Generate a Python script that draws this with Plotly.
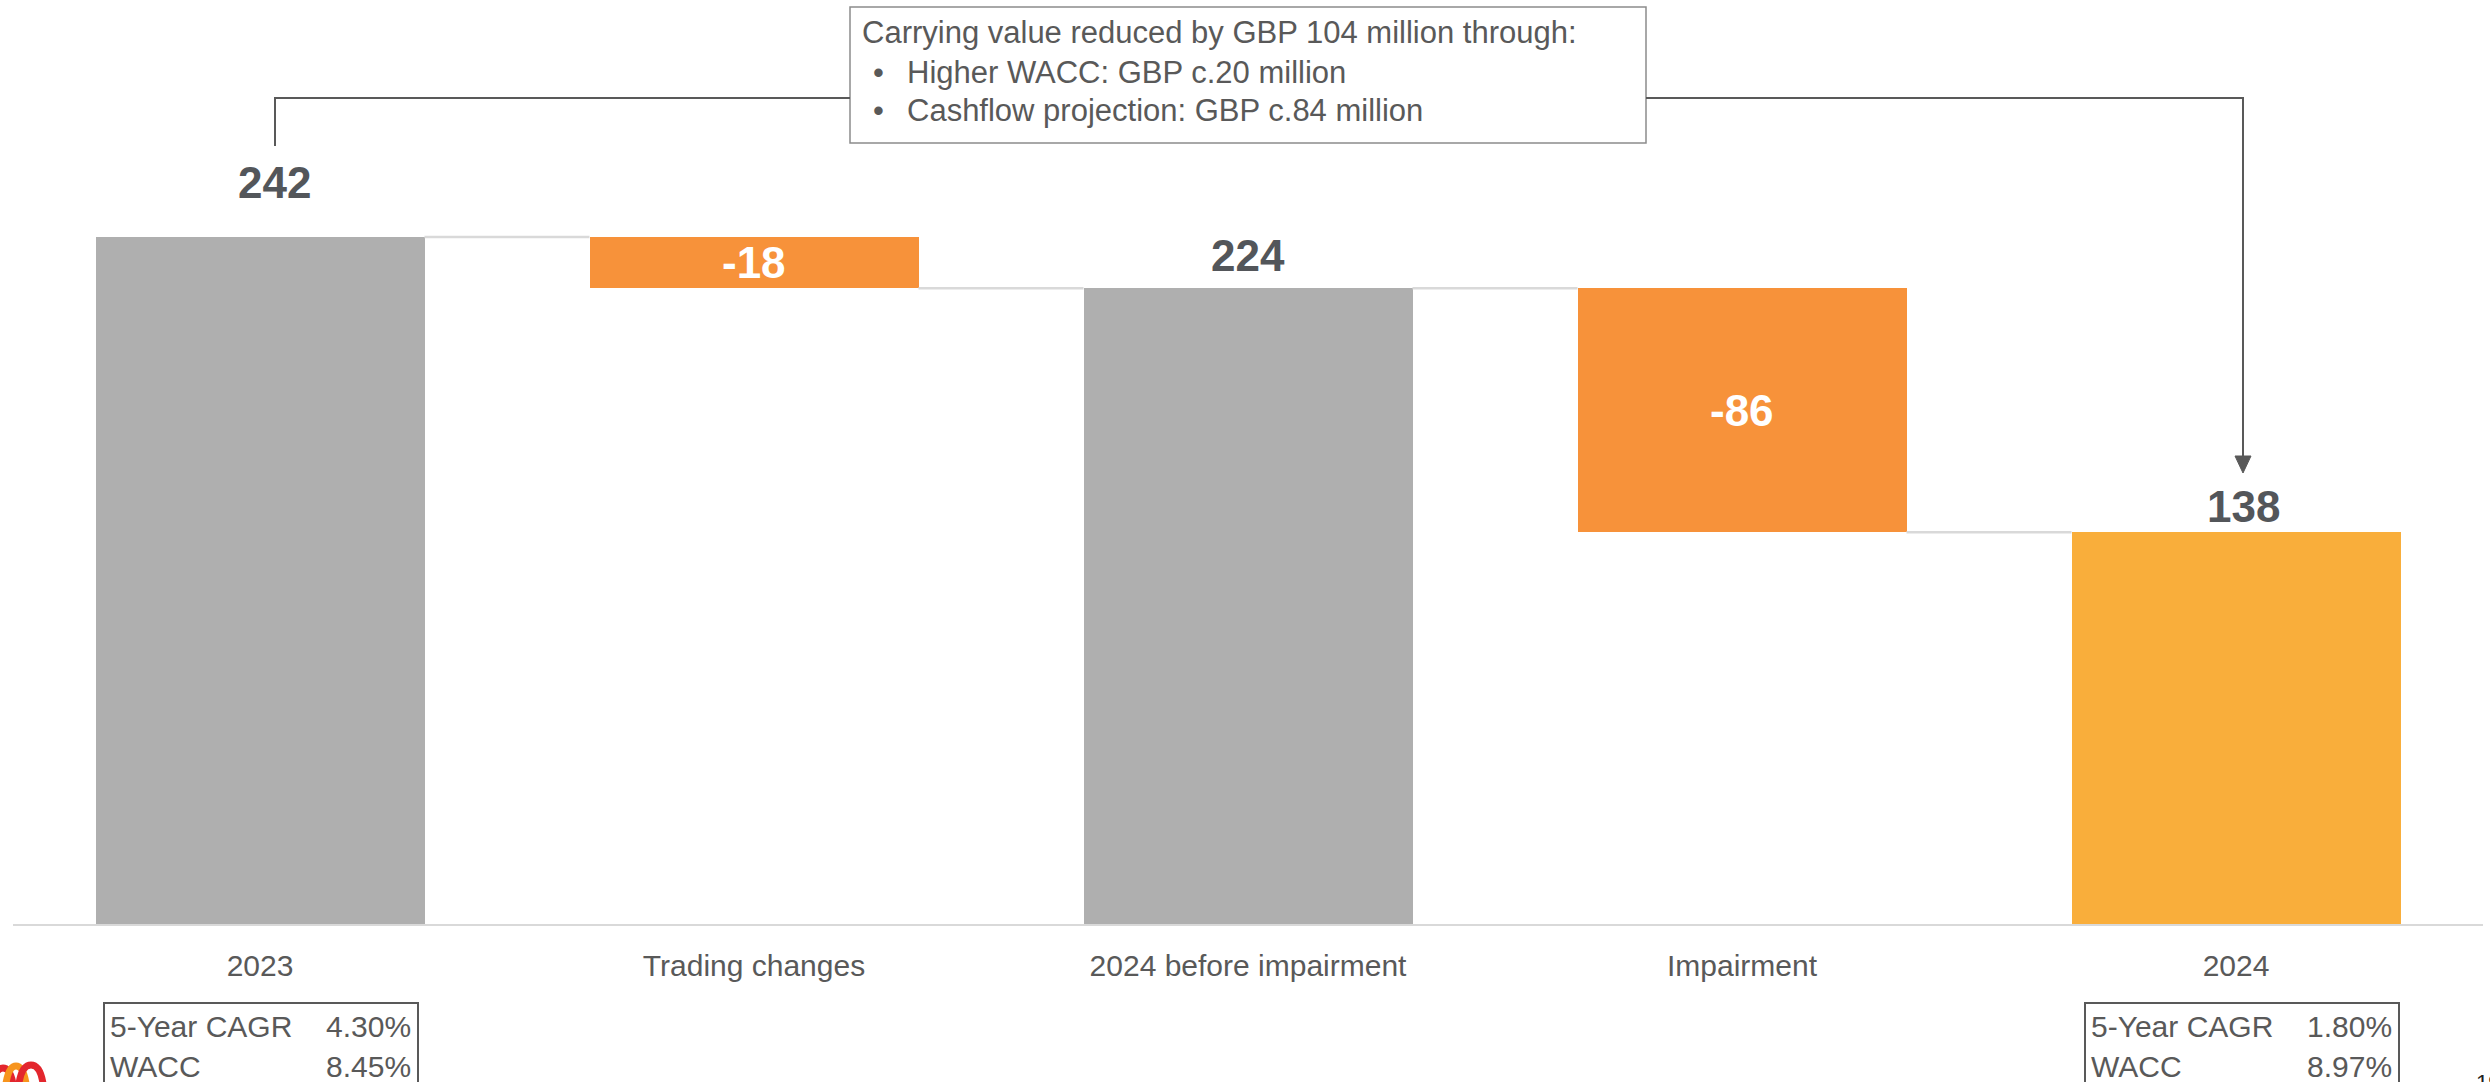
import plotly.graph_objects as go

# ---- data -------------------------------------------------------------
categories = ["2023", "Trading changes", "2024 before impairment", "Impairment", "2024"]
measures = ["absolute", "relative", "total", "relative", "total"]
values = [242, -18, 224, -86, 138]

metric_names = ["5-Year CAGR", "WACC"]
metrics_2023 = ["4.30%", "8.45%"]
metrics_2024 = ["1.80%", "8.97%"]

note_title = "Carrying value reduced by GBP 104 million through:"
note_items = ["Higher WACC: GBP c.20 million", "Cashflow projection: GBP c.84 million"]
page_number = "19"

# ---- styling ------------------------------------------------------------
GREY = "#AFAFAF"
ORANGE = "#F7923A"
GOLD = "#F9AE3B"
LABEL_DARK = "#53565A"
TEXT_GREY = "#595959"
CONNECTOR = "#D9D9D9"
FONT = "Liberation Sans, Arial, sans-serif"

W_PX, H_PX = 2490, 1082
M_L, M_R, M_T, M_B = 13, 7, 0, 158
PLOT_W = W_PX - M_L - M_R
PLOT_H = H_PX - M_T - M_B
Y_MAX = 325.5
BAR_W = 0.666
NOTE_FONT = 31


def px_x(p):
    return (p - M_L) / PLOT_W


def px_y(p):
    return (M_T + PLOT_H - p) / PLOT_H


# ---- waterfall geometry from the values ---------------------------------
bases, heights, levels = [], [], []
level = 0
for m, v in zip(measures, values):
    if m in ("absolute", "total"):
        bases.append(0)
        heights.append(v)
        level = v
    else:
        bases.append(level + v if v < 0 else level)
        heights.append(abs(v))
        level += v
    levels.append(level)

bar_colors = []
for i, m in enumerate(measures):
    if m == "relative":
        bar_colors.append(ORANGE)
    elif i == len(measures) - 1:
        bar_colors.append(GOLD)
    else:
        bar_colors.append(GREY)

xs = list(range(len(categories)))

fig = go.Figure()
fig.add_trace(go.Bar(
    x=xs, y=heights, base=bases, width=BAR_W,
    marker=dict(color=bar_colors, line=dict(width=0)),
    hoverinfo="skip", showlegend=False,
))

shapes = []
annotations = []

# connectors between consecutive bars
for i in range(len(xs) - 1):
    shapes.append(dict(
        type="line", xref="x", yref="y",
        x0=xs[i] + BAR_W / 2, x1=xs[i + 1] - BAR_W / 2,
        y0=levels[i], y1=levels[i],
        line=dict(color=CONNECTOR, width=2.5),
    ))

# value labels
label_shift = {0: (14, 55), 2: (0, 33), 4: (7, 26)}
for i, (m, v) in enumerate(zip(measures, values)):
    txt = f"{v:d}"
    if m == "relative":
        annotations.append(dict(
            x=xs[i], y=bases[i] + heights[i] / 2, xref="x", yref="y",
            text=f"<b>{txt}</b>", showarrow=False,
            xanchor="center", yanchor="middle",
            font=dict(family=FONT, size=44, color="white"),
        ))
    else:
        dx, dy = label_shift[i]
        annotations.append(dict(
            x=xs[i], y=v, xref="x", yref="y",
            text=f"<b>{txt}</b>", showarrow=False,
            xanchor="center", yanchor="middle", xshift=dx, yshift=dy,
            font=dict(family=FONT, size=44, color=LABEL_DARK),
        ))

# explanatory note box and its bracket arrow
BOX_L, BOX_R, BOX_T, BOX_B = 850, 1646, 7, 143
shapes.append(dict(
    type="rect", xref="paper", yref="paper",
    x0=px_x(BOX_L), x1=px_x(BOX_R), y0=px_y(BOX_B), y1=px_y(BOX_T),
    line=dict(color="#8C8C8C", width=1.5), fillcolor="rgba(0,0,0,0)",
))
annotations.append(dict(
    x=px_x(860), y=px_y(33), xref="paper", yref="paper",
    text=note_title, showarrow=False, xanchor="left", yanchor="middle",
    font=dict(family=FONT, size=NOTE_FONT, color=TEXT_GREY),
))
for k, item in enumerate(note_items):
    yc = 72 + k * 38.5
    annotations.append(dict(
        x=px_x(871), y=px_y(yc), xref="paper", yref="paper",
        text="•", showarrow=False, xanchor="left", yanchor="middle",
        font=dict(family=FONT, size=NOTE_FONT, color=TEXT_GREY),
    ))
    annotations.append(dict(
        x=px_x(905), y=px_y(yc), xref="paper", yref="paper",
        text=item, showarrow=False, xanchor="left", yanchor="middle",
        font=dict(family=FONT, size=NOTE_FONT, color=TEXT_GREY),
    ))

LINE_Y = 98
ARROW_X = 2243
shapes.append(dict(
    type="path", xref="paper", yref="paper",
    path=(f"M {px_x(275)},{px_y(146)} L {px_x(275)},{px_y(LINE_Y)} "
          f"L {px_x(BOX_L)},{px_y(LINE_Y)}"),
    line=dict(color=TEXT_GREY, width=2),
))
shapes.append(dict(
    type="path", xref="paper", yref="paper",
    path=(f"M {px_x(BOX_R)},{px_y(LINE_Y)} L {px_x(ARROW_X)},{px_y(LINE_Y)} "
          f"L {px_x(ARROW_X)},{px_y(458)}"),
    line=dict(color=TEXT_GREY, width=2),
))
shapes.append(dict(
    type="path", xref="paper", yref="paper",
    path=(f"M {px_x(ARROW_X - 8)},{px_y(456)} L {px_x(ARROW_X + 8)},{px_y(456)} "
          f"L {px_x(ARROW_X)},{px_y(473)} Z"),
    line=dict(color=TEXT_GREY, width=1), fillcolor=TEXT_GREY,
))

# small metric tables under the first and last bars
def metric_table(left, right, vals):
    shapes.append(dict(
        type="rect", xref="paper", yref="paper",
        x0=px_x(left), x1=px_x(right), y0=px_y(1100), y1=px_y(1003),
        line=dict(color=TEXT_GREY, width=2), fillcolor="rgba(0,0,0,0)",
    ))
    for r, (name, val) in enumerate(zip(metric_names, vals)):
        yc = 1026 + r * 40
        annotations.append(dict(
            x=px_x(left + 4), y=px_y(yc), xref="paper", yref="paper",
            text=name, showarrow=False, xanchor="left", yanchor="middle",
            font=dict(family=FONT, size=30, color=TEXT_GREY),
        ))
        annotations.append(dict(
            x=px_x(right - 5), y=px_y(yc), xref="paper", yref="paper",
            text=val, showarrow=False, xanchor="right", yanchor="middle",
            font=dict(family=FONT, size=30, color=TEXT_GREY),
        ))


metric_table(104, 418, metrics_2023)
metric_table(2085, 2399, metrics_2024)

# page number in the corner
annotations.append(dict(
    x=px_x(2474), y=px_y(1068), xref="paper", yref="paper",
    text=page_number, showarrow=False, xanchor="left", yanchor="top",
    font=dict(family=FONT, size=22, color="#222222"),
))

# corner logo arcs
def arc(x0, w, ytop, color):
    p = (f"M {px_x(x0)},{px_y(1092)} "
         f"Q {px_x(x0 + 2)},{px_y(ytop)} {px_x(x0 + w / 2)},{px_y(ytop)} "
         f"Q {px_x(x0 + w - 2)},{px_y(ytop)} {px_x(x0 + w)},{px_y(1092)}")
    shapes.append(dict(type="path", xref="paper", yref="paper", path=p,
                       line=dict(color=color, width=7)))


arc(-8, 22, 1068, "#E3262D")
arc(5, 22, 1066, "#F7941D")
arc(18, 26, 1065, "#E3262D")

fig.update_layout(
    width=W_PX, height=H_PX,
    margin=dict(l=M_L, r=M_R, t=M_T, b=M_B, pad=0),
    plot_bgcolor="white", paper_bgcolor="white",
    bargap=0, showlegend=False,
    shapes=shapes, annotations=annotations,
    font=dict(family=FONT),
    xaxis=dict(
        range=[-0.5, len(categories) - 0.5],
        tickmode="array", tickvals=xs, ticktext=categories,
        tickfont=dict(family=FONT, size=30, color=TEXT_GREY),
        showgrid=False, zeroline=False,
        showline=True, linecolor=CONNECTOR, linewidth=2,
        ticks="", ticklabelstandoff=14,
        fixedrange=True,
    ),
    yaxis=dict(
        range=[0, Y_MAX], visible=False, showgrid=False, zeroline=False,
        fixedrange=True,
    ),
)

fig.write_html("out.html", config={"displayModeBar": False})
